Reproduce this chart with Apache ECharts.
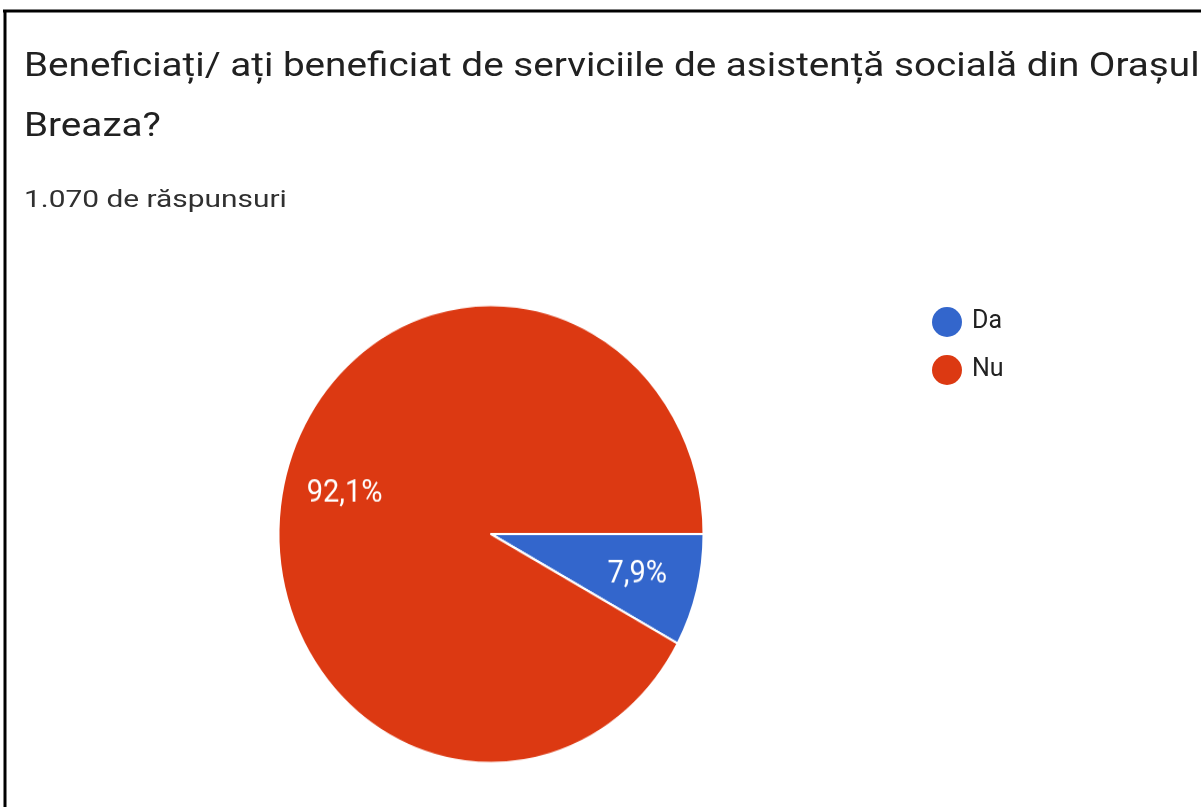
<!DOCTYPE html>
<html>
<head>
<meta charset="utf-8">
<script src="https://cdn.jsdelivr.net/npm/echarts@6/dist/echarts.min.js"></script>
<style>
html,body{margin:0;padding:0;background:#fff;}
#wrap{position:relative;width:1201px;height:807px;overflow:hidden;}
#c{position:absolute;left:0;top:0;width:1201px;height:807px;}
#p{position:absolute;left:0;top:0;width:1201px;height:807px;transform-origin:491px 534px;transform:scaleY(1.077);}
</style>
</head>
<body>
<div id="wrap"><div id="c"></div><div id="p"></div></div>
<script>
const titleLines = ['Beneficiați/ ați beneficiat de serviciile de asistență socială din Orașul', 'Breaza?'];
const subtitleText = '1.070 de răspunsuri';
const categories = ['Da', 'Nu'];
const values = [85, 985];
const percentLabels = ['7,9%', '92,1%'];
const colors = ['#3366CC', '#DC3912'];

const main = echarts.init(document.getElementById('c'), null, {renderer: 'canvas'});
const pie = echarts.init(document.getElementById('p'), null, {renderer: 'canvas'});

const textFont = (size) => ({fontFamily: 'Roboto', fontSize: size, fill: '#212121', verticalAlign: 'middle', align: 'left'});

main.setOption({
  animation: false,
  backgroundColor: '#ffffff',
  legend: {
    orient: 'vertical',
    left: 932, top: 307, padding: 0,
    icon: 'circle',
    itemWidth: 30, itemHeight: 30, itemGap: 18,
    textStyle: {fontFamily: 'Roboto', fontSize: 25, color: '#212121', padding: [0, 0, 0, 5]},
    data: categories.map((n, i) => ({name: n, itemStyle: {color: colors[i]}})),
    selectedMode: false
  },
  graphic: [
    {type: 'line', shape: {x1: 3, y1: 11, x2: 1201, y2: 11}, style: {stroke: '#000', lineWidth: 3}},
    {type: 'line', shape: {x1: 5, y1: 10, x2: 5, y2: 807}, style: {stroke: '#000', lineWidth: 3}},
    {type: 'text', x: 24, y: 68, scaleX: 1.172, style: Object.assign({text: titleLines[0]}, textFont(33))},
    {type: 'text', x: 24, y: 128, scaleX: 1.172, style: Object.assign({text: titleLines[1]}, textFont(33))},
    {type: 'text', x: 24, y: 201, scaleX: 1.245, style: Object.assign({text: subtitleText}, textFont(24), {fill: '#303030'})}
  ],
  series: [{
    type: 'pie', radius: 0, center: [-100, -100], silent: true,
    label: {show: false}, labelLine: {show: false},
    data: categories.map((n, i) => ({name: n, value: values[i], itemStyle: {color: colors[i]}}))
  }]
});

pie.setOption({
  animation: false,
  series: [{
    type: 'pie',
    center: [491, 534],
    radius: 212.5,
    startAngle: 0,
    clockwise: true,
    silent: true,
    label: {show: false},
    labelLine: {show: false},
    itemStyle: {borderColor: '#ffffff', borderWidth: 2},
    data: categories.map((n, i) => ({name: n, value: values[i], itemStyle: {color: colors[i]}}))
  }, {
    type: 'pie',
    center: [491, 534],
    radius: 296,
    startAngle: 0,
    clockwise: true,
    silent: true,
    z: 5,
    itemStyle: {color: 'rgba(0,0,0,0)'},
    label: {show: true, position: 'inside', color: '#ffffff', fontFamily: 'Roboto', fontSize: 29},
    labelLine: {show: false},
    data: categories.map((n, i) => ({name: n, value: values[i], label: {formatter: percentLabels[i]}}))
  }]
});
</script>
</body>
</html>
